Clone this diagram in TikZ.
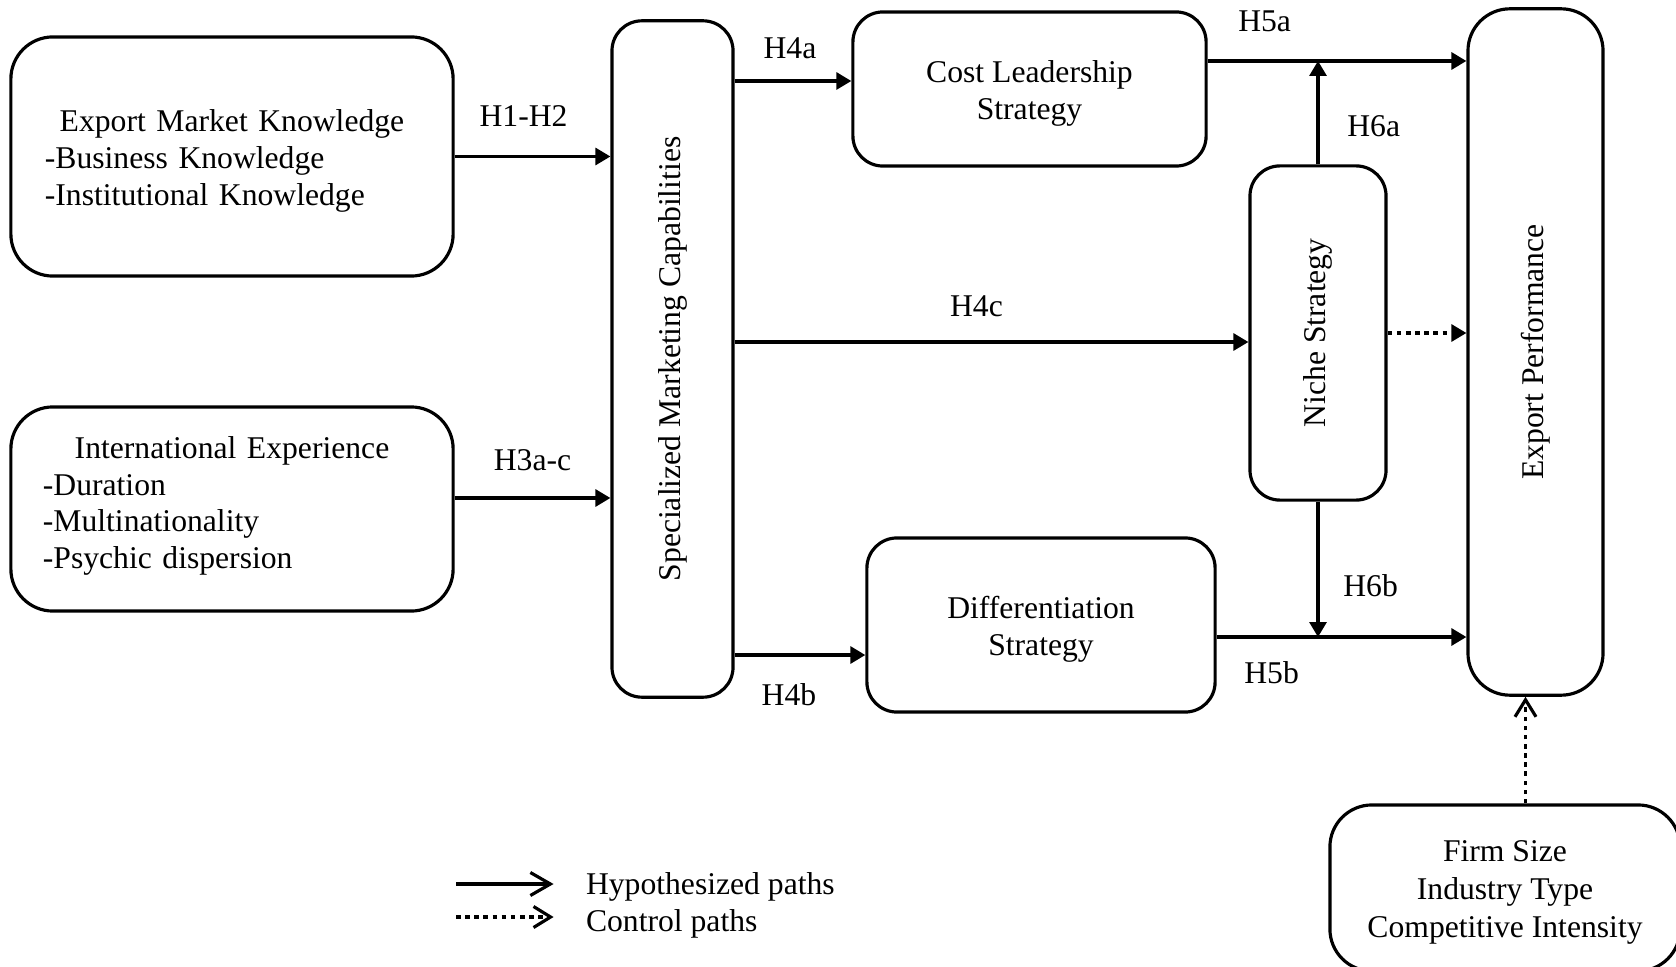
\documentclass[tikz,border=0pt]{standalone}
\usepackage{fontspec}
\setmainfont{Liberation Serif}
\usetikzlibrary{arrows.meta, positioning}

\newcommand{\topgap}[1][8.6pt]{\rule{0pt}{#1}}

\tikzset{
  box/.style={draw, line width=0.9pt, rounded corners=0.3cm, inner sep=0pt, align=center, font=\fontsize{9}{10.5}\selectfont},
  lbl/.style={font=\fontsize{9}{10.5}\selectfont},
  hyparrow/.style={line width=0.9pt, -{Triangle[length=1.5mm, width=1.7mm]}},
  ctrlarrow/.style={line width=0.9pt, dash pattern=on 1.3pt off 1.3pt, -{Triangle[length=1.5mm, width=1.7mm]}},
  hypopen/.style={line width=0.9pt, -{Straight Barb[length=2mm, width=2.3mm]}},
  ctrlopen/.style={line width=0.9pt, dash pattern=on 1.3pt off 1.3pt, -{Straight Barb[length=1.7mm, width=2.1mm]}},
}

\begin{document}
\begin{tikzpicture}[x=0.01cm, y=-0.01cm]

  \useasboundingbox (0,0) rectangle (1676,967);

  % antecedents
  \node[box, rounded corners=0.42cm, align=left, text width=3.74cm, inner xsep=0.34cm, minimum height=2.39cm] (emk) at (232,156.5)
    {\topgap\makebox[\linewidth]{Export Market Knowledge}\\-Business Knowledge\\-Institutional Knowledge};
  \node[box, rounded corners=0.42cm, align=left, text width=3.78cm, inner xsep=0.32cm, minimum height=2.04cm] (ie) at (232,509)
    {\makebox[\linewidth]{International Experience}\\-Duration\\-Multinationality\\-Psychic dispersion\rule[-3.7pt]{0pt}{0pt}};

  % capabilities and strategies
  \node[box, minimum width=1.21cm, minimum height=6.76cm] (smc) at (672.5,359) {\rotatebox{90}{Specialized Marketing Capabilities}};
  \node[box, minimum width=3.53cm, minimum height=1.54cm] (cl) at (1029.5,89) {\topgap Cost Leadership\\Strategy};
  \node[box, minimum width=1.36cm, minimum height=3.34cm] (niche) at (1318,333) {\rotatebox{90}{Niche Strategy}};
  \node[box, minimum width=3.48cm, minimum height=1.74cm] (diff) at (1041,625) {\topgap Differentiation\\Strategy};

  % outcome and controls
  \node[box, rounded corners=0.42cm, minimum width=1.35cm, minimum height=6.86cm] (ep) at (1535.5,352) {\rotatebox{90}{Export Performance}};
  \node[box, rounded corners=0.42cm, minimum width=3.5cm, minimum height=1.66cm, font=\fontsize{9}{10.8}\selectfont] (firm) at (1505,888)
    {\topgap[8.6pt]Firm Size\\Industry Type\\Competitive Intensity};

  \coordinate (h5a) at ([yshift=0.28cm]cl.east);
  \coordinate (h5b) at ([yshift=-0.12cm]diff.east);

  \draw[hyparrow] (emk.east) -- (emk.east -| smc.west) node[midway, above=0.17cm, xshift=-0.09cm, lbl] {H1-H2};
  \draw[hyparrow] ([yshift=0.11cm]ie.east) -- ([yshift=0.11cm]ie.east -| smc.west) node[midway, above=0.14cm, lbl] {H3a-c};

  \draw[hyparrow] ([yshift=0.08cm]cl.west -| smc.east) -- ([yshift=0.08cm]cl.west) node[midway, above=0.09cm, xshift=-0.03cm, lbl] {H4a};
  \draw[hyparrow] ([yshift=-0.09cm]niche.west -| smc.east) -- ([yshift=-0.09cm]niche.west) node[midway, above=0.12cm, xshift=-0.15cm, lbl] {H4c};
  \draw[hyparrow] ([yshift=-0.3cm]diff.west -| smc.east) -- ([yshift=-0.3cm]diff.west) node[midway, below=0.15cm, xshift=-0.11cm, lbl] {H4b};

  \draw[hyparrow] (h5a) -- (h5a -| ep.west) node[pos=0.22, above=0.16cm, lbl] {H5a};
  \draw[hyparrow] (h5b) -- (h5b -| ep.west) node[pos=0.22, below=0.11cm, lbl] {H5b};

  \draw[hyparrow] (niche.north) -- (niche.north |- h5a) node[pos=0.37, right=0.16cm, lbl] {H6a};
  \draw[hyparrow] (niche.south) -- (niche.south |- h5b) node[pos=0.62, right=0.12cm, lbl] {H6b};

  \draw[ctrlarrow] (niche.east) -- (niche.east -| ep.west);
  \draw[ctrlopen] ([xshift=-0.1cm]firm.north -| ep.south) -- ([xshift=-0.1cm]ep.south);

  % legend
  \coordinate (legsolid) at (456,884);
  \coordinate (legdot) at (456,917);
  \node[lbl, right=1.175cm of legsolid, yshift=-0.03cm] (hyptext) {Hypothesized paths};
  \node[lbl, right=1.175cm of legdot, yshift=-0.07cm] (ctrltext) {Control paths};
  \draw[hypopen] (legsolid) -- ([xshift=-0.2cm]hyptext.west |- legsolid);
  \draw[ctrlopen] (legdot) -- ([xshift=-0.2cm]ctrltext.west |- legdot);

\end{tikzpicture}
\end{document}
